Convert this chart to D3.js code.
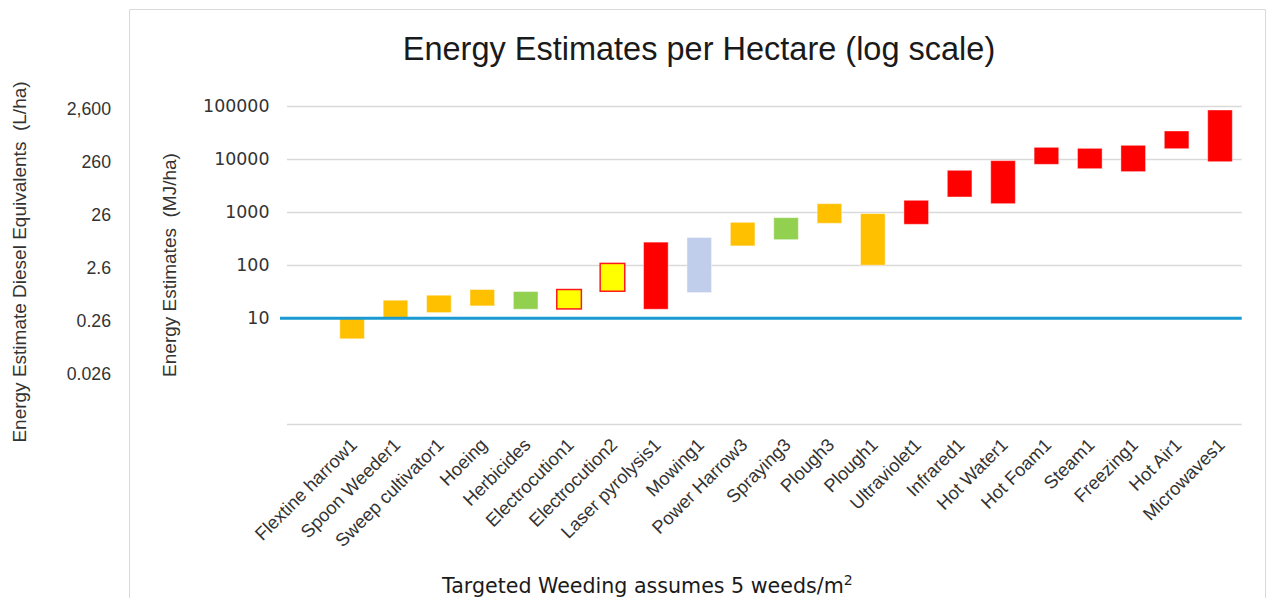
<!DOCTYPE html>
<html>
<head>
<meta charset="utf-8">
<script src="https://cdn.jsdelivr.net/npm/d3@7/dist/d3.min.js"></script>
<style>
  html, body { margin: 0; padding: 0; background: #fff; }
  svg { display: block; }
  .pre { white-space: pre; }
</style>
</head>
<body>
<svg id="chart" width="1267" height="598"></svg>
<script>
// ---------------- DATA ----------------
const categories = ["Flextine harrow1", "Spoon Weeder1", "Sweep cultivator1", "Hoeing", "Herbicides",
  "Electrocution1", "Electrocution2", "Laser pyrolysis1", "Mowing1", "Power Harrow3", "Spraying3",
  "Plough3", "Plough1", "Ultraviolet1", "Infrared1", "Hot Water1", "Hot Foam1", "Steam1",
  "Freezing1", "Hot Air1", "Microwaves1"];
const lowValues  = [4.1, 10, 12.8, 17.1, 14.8, 15, 32.3, 14.8, 30.5, 231, 303, 616, 100, 590,
  1930, 1445, 7960, 6590, 5800, 15700, 8930];
const highValues = [10, 21.9, 27.2, 34.8, 31.9, 34.8, 108, 272, 333, 643, 787, 1445, 937, 1671,
  6140, 9340, 16630, 15920, 18150, 33800, 84100];
const methodType = ["mechanical", "mechanical", "mechanical", "mechanical", "chemical",
  "electrical", "electrical", "thermal", "cutting", "mechanical", "chemical",
  "mechanical", "mechanical", "thermal", "thermal", "thermal", "thermal", "thermal",
  "thermal", "thermal", "thermal"];
const mjTicks = [10, 100, 1000, 10000, 100000];
const gridValues = [0.1, 100, 1000, 10000, 100000];
const referenceValue = 10;
const dieselTicks = [2600, 260, 26, 2.6, 0.26, 0.026];
const dieselLabels = ["2,600", "260", "26", "2.6", "0.26", "0.026"];
const titleText = "Energy Estimates per Hectare (log scale)";
const mjTitle = "Energy Estimates  (MJ/ha)";
const dieselTitle = "Energy Estimate Diesel Equivalents  (L/ha)";

// ---------------- STYLES ----------------
const typeFill = { mechanical: "#ffc000", chemical: "#92d050", electrical: "#ffff00", thermal: "#ff0000", cutting: "#c0cdeb" };
const typeStroke = { mechanical: "rgba(255,255,255,0.45)", chemical: "rgba(255,255,255,0.45)", electrical: "#ff1a1a", thermal: "rgba(255,255,255,0.4)", cutting: "rgba(255,255,255,0.45)" };
const typeStrokeW = { mechanical: 1, chemical: 1, electrical: 1.5, thermal: 1, cutting: 1 };

const svg = d3.select("#chart");

// panel border
svg.append("path")
  .attr("d", "M129.5,598 V9.5 H1265.5 V598")
  .attr("fill", "none").attr("stroke", "#d9d9d9").attr("stroke-width", 1);

const plotLeft = 287, plotRight = 1241.7;
const step = (plotRight - plotLeft) / (categories.length + 1);

const x = d3.scaleBand()
  .domain(categories)
  .range([plotLeft + step, plotRight])
  .paddingInner(0.433)
  .paddingOuter(0.2165);

const y = d3.scaleLog().domain([0.1, 100000]).range([424.4, 106]);
const yDiesel = d3.scaleLog().domain([0.0026, 2600]).range([y(0.1) + 2.5, y(100000) + 2.5]);

// gridlines
svg.append("g").selectAll("line").data(gridValues).join("line")
  .attr("x1", plotLeft).attr("x2", plotRight)
  .attr("y1", d => Math.round(y(d)) + 0.5).attr("y2", d => Math.round(y(d)) + 0.5)
  .attr("stroke", "#d9d9d9").attr("stroke-width", 1.3);

// bars
svg.append("g").selectAll("rect").data(categories).join("rect")
  .attr("x", d => x(d))
  .attr("width", x.bandwidth())
  .attr("y", (d, i) => y(highValues[i]))
  .attr("height", (d, i) => y(lowValues[i]) - y(highValues[i]))
  .attr("fill", (d, i) => typeFill[methodType[i]])
  .attr("stroke", (d, i) => typeStroke[methodType[i]])
  .attr("stroke-width", (d, i) => typeStrokeW[methodType[i]]);

// reference line at 10
svg.append("line")
  .attr("x1", 280).attr("x2", plotRight)
  .attr("y1", y(referenceValue)).attr("y2", y(referenceValue))
  .attr("stroke", "#1b9ad2").attr("stroke-width", 3);

// inner MJ axis
const mjAxis = svg.append("g")
  .attr("transform", `translate(${plotLeft},0)`)
  .call(d3.axisLeft(y).tickValues(mjTicks).tickFormat(d3.format("d")).tickSize(0).tickPadding(17.5));
mjAxis.select(".domain").remove();
mjAxis.selectAll("text")
  .attr("font-family", "DejaVu Sans").attr("font-size", "17.4px").attr("fill", "#333");

// outer diesel axis
const dAxis = svg.append("g")
  .attr("transform", "translate(111,0)")
  .call(d3.axisLeft(yDiesel).tickValues(dieselTicks).tickFormat((d, i) => dieselLabels[i]).tickSize(0).tickPadding(0));
dAxis.select(".domain").remove();
dAxis.selectAll("text")
  .attr("font-family", "Liberation Sans").attr("font-size", "17.7px").attr("fill", "#333");

// category labels
svg.append("g").selectAll("text").data(categories).join("text")
  .attr("transform", d => `translate(${x(d) + x.bandwidth() / 2 + 6},446) rotate(-45)`)
  .attr("text-anchor", "end")
  .attr("font-family", "Liberation Sans").attr("font-size", "18.3px").attr("fill", "#333")
  .text(d => d);

// title
svg.append("text")
  .attr("x", 699).attr("y", 59.5).attr("text-anchor", "middle")
  .attr("font-family", "Liberation Sans").attr("font-size", "32.5px").attr("fill", "#1a1a1a")
  .text(titleText);

// axis titles
svg.append("text").attr("class", "pre")
  .attr("transform", "translate(175.5,265) rotate(-90)").attr("text-anchor", "middle")
  .attr("font-family", "Liberation Sans").attr("font-size", "19px").attr("fill", "#333")
  .text(mjTitle);
svg.append("text").attr("class", "pre")
  .attr("transform", "translate(25.5,262) rotate(-90)").attr("text-anchor", "middle")
  .attr("font-family", "Liberation Sans").attr("font-size", "19px").attr("fill", "#333")
  .text(dieselTitle);

// footnote
const foot = svg.append("text")
  .attr("x", 442).attr("y", 593.3)
  .attr("font-family", "DejaVu Sans").attr("font-size", "20.6px").attr("fill", "#1a1a1a");
foot.append("tspan").text("Targeted Weeding assumes 5 weeds/m");
foot.append("tspan").attr("dy", -8).attr("font-size", "14px").text("2");
</script>
</body>
</html>
